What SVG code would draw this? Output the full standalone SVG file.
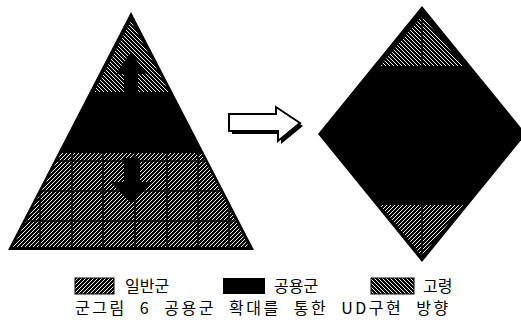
<svg xmlns="http://www.w3.org/2000/svg" width="521" height="333" viewBox="0 0 521 333">
<defs>
<pattern id="slash" patternUnits="userSpaceOnUse" width="4" height="4">
<rect width="4" height="4" fill="#000"/>
<path d="M-1,1 L1,-1 M0,4 L4,0 M3,5 L5,3" stroke="#f0f0f0" stroke-width="1"/>
</pattern>
<pattern id="bslash" patternUnits="userSpaceOnUse" width="4" height="4">
<rect width="4" height="4" fill="#000"/>
<path d="M-1,3 L1,5 M0,0 L4,4 M3,-1 L5,1" stroke="#f0f0f0" stroke-width="1"/>
</pattern>
<clipPath id="lowclip"><polygon points="61,153 201,153 249,247 13,247"/></clipPath>
</defs>
<style>
.lbl{font-family:"Noto Sans CJK KR","Noto Sans",sans-serif;font-size:16px;fill:#000}
.cap{font-family:"Noto Sans CJK KR","Noto Sans",sans-serif;font-size:16px;fill:#000;letter-spacing:2.5px;word-spacing:7px}
.blk{fill:#000}
.grid{stroke:#000;stroke-width:1.5;fill:none}
</style>
<g id="pyramid">
<polygon class="blk" points="131,12 254,250 8,250"/>
<polygon fill="url(#bslash)" points="131,21 169,92 94,92"/>
<polygon class="blk" points="131,52 146,74 138,74 138,94 124,94 124,74 116,74"/>
<polygon fill="url(#slash)" points="61,153 201,153 249,247 13,247"/>
<g clip-path="url(#lowclip)" class="grid">
<path d="M40,150V250M72,150V250M103,150V250M135,150V250M167,150V250M198,150V250M229,150V250"/>
<path d="M0,161H260M0,191H260M0,221H260"/>
</g>
<polygon class="blk" points="124,158 140,158 140,182 151,182 131,203 111,182 124,182"/>
</g>
<g id="connectors">
<polygon class="blk" points="232,117 279,117 279,110 303,126 281,144 281,134 232,134"/>
<polygon fill="#fff" stroke="#000" stroke-width="2" points="229,114 276,114 276,107 300,123 278,141 278,131 229,131"/>
</g>
<g id="diamond">
<polygon class="blk" points="422,6 526,134 422,262 318,134"/>
<polygon fill="url(#bslash)" points="422,16 463,66 380,66"/>
<line x1="422" y1="14" x2="422" y2="66" stroke="#000" stroke-width="1.5"/>
<polygon fill="url(#slash)" points="380,205 463,205 422,256"/>
<line x1="422" y1="205" x2="422" y2="258" stroke="#000" stroke-width="1.5"/>
</g>
<g id="legend-general">
<rect x="75" y="278" width="39" height="16" fill="url(#slash)" stroke="#000" stroke-width="1"/>
<text class="lbl" x="125" y="292">일반군</text>
</g>
<g id="legend-shared">
<rect x="223" y="278" width="42" height="16" fill="#000"/>
<text class="lbl" x="274" y="292">공용군</text>
</g>
<g id="legend-elderly">
<rect x="371" y="278" width="43" height="16" fill="url(#bslash)" stroke="#000" stroke-width="1"/>
<text class="lbl" x="423" y="292">고령</text>
</g>
<g id="caption">
<text class="cap" x="75" y="314">군그림 6 공용군 확대를 통한 UD구현 방향</text>
</g>
</svg>
